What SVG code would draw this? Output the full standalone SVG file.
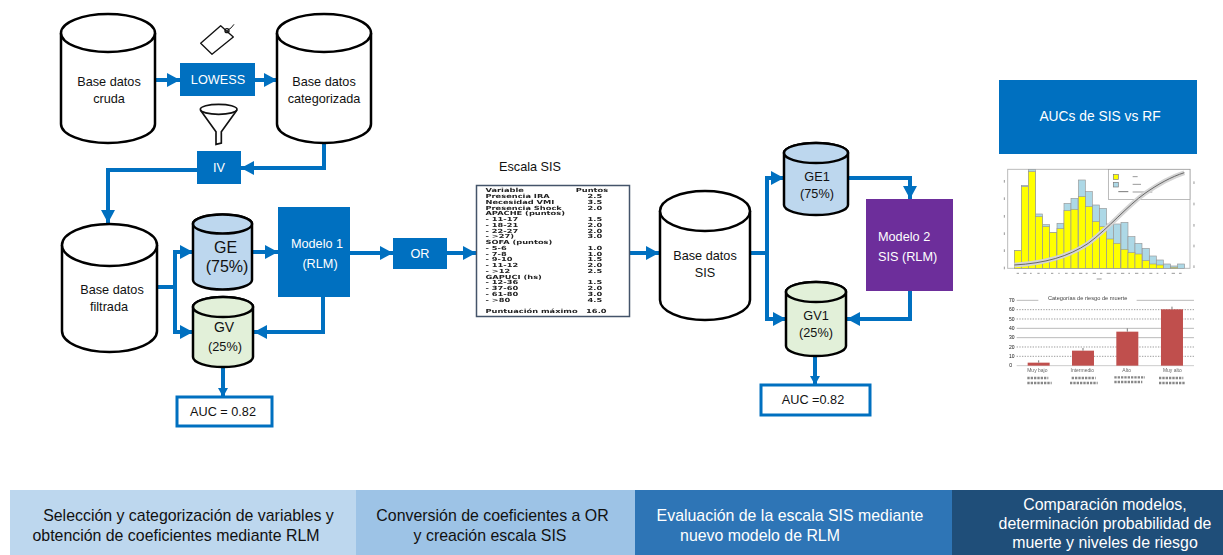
<svg xmlns="http://www.w3.org/2000/svg" width="1223" height="555" viewBox="0 0 1223 555">
<style>
text{font-family:"Liberation Sans",Arial,sans-serif;fill:#111}
.c{text-anchor:middle}
.cy{fill:#fff;stroke:#000;stroke-width:2.500}
.box{fill:#0070c0}
.lab{font-size:12.700px}
.wt{fill:#fff}
.band{font-size:15.900px}
.conn{fill:none;stroke:#0070c0;stroke-width:4}
.tb{font-family:"DejaVu Sans",sans-serif;font-weight:700;font-size:5.600px;fill:#222}
.ax{font-size:15px;fill:#777}
.tick{stroke:#999;stroke-width:3;fill:none}
</style>
<defs>
<marker id="a" markerUnits="userSpaceOnUse" markerWidth="14" markerHeight="15" refX="13" refY="7.500" orient="auto"><path d="M0 0.500 L13 7.500 L0 14.500 Z" fill="#0070c0"/></marker>
<marker id="s" markerUnits="userSpaceOnUse" markerWidth="10" markerHeight="11" refX="9" refY="5.500" orient="auto"><path d="M0 0.500 L9 5.500 L0 10.500 Z" fill="#0070c0"/></marker>
<filter id="b1" x="-5%" y="-5%" width="110%" height="110%"><feGaussianBlur stdDeviation="0.45"/></filter>
<filter id="b2" x="-5%" y="-5%" width="110%" height="110%"><feGaussianBlur stdDeviation="1.800"/></filter>
</defs>
<rect width="1223" height="555" fill="#fff"/>

<g id="connectors" class="conn">
<path d="M155 80H180" marker-end="url(#a)"/>
<path d="M255 80H277" marker-end="url(#a)"/>
<path d="M324 143V168H241" marker-end="url(#a)"/>
<path d="M197 170H108V223" marker-end="url(#a)"/>
<path d="M157 287H175V252H193" marker-end="url(#a)"/>
<path d="M175 287V332H193" marker-end="url(#a)"/>
<path d="M252 252H278" marker-end="url(#a)"/>
<path d="M323 297V332H254" marker-end="url(#a)"/>
<path d="M223 367V397" marker-end="url(#s)"/>
<path d="M350 253H393" marker-end="url(#a)"/>
<path d="M447 253H476" marker-end="url(#a)"/>
<path d="M630 253H659" marker-end="url(#a)"/>
<path d="M750 253H767V178H784" marker-end="url(#a)"/>
<path d="M767 253V319H786" marker-end="url(#a)"/>
<path d="M848 178H910V199" marker-end="url(#a)"/>
<path d="M910 291V319H847" marker-end="url(#a)"/>
<path d="M815 356V385" marker-end="url(#s)"/>
</g>

<g id="db-cruda">
<path class="cy" d="M61 33A47 19 0 0 1 155 33V124A47 19 0 0 1 61 124Z"/>
<path class="cy" d="M61 33A47 19 0 0 0 155 33"/>
<text class="lab c" x="109" y="86">Base datos</text><text class="lab c" x="109" y="103">cruda</text>
</g>
<g id="db-categorizada">
<path class="cy" d="M277 33A47 19 0 0 1 371 33V124A47 19 0 0 1 277 124Z"/>
<path class="cy" d="M277 33A47 19 0 0 0 371 33"/>
<text class="lab c" x="324" y="86">Base datos</text><text class="lab c" x="324" y="103">categorizada</text>
</g>
<g id="lowess"><rect class="box" x="180" y="63" width="75" height="33"/><text class="lab c wt" x="218" y="84">LOWESS</text></g>
<g id="tag" transform="translate(170 15) scale(.3333)" fill="none" stroke="#111" stroke-width="4">
<path d="M92 85L152 32L190 66L126 118Z" stroke-linejoin="round"/><circle cx="171" cy="47" r="6"/><path d="M171 47Q185 40 192 28" stroke-width="3"/>
</g>
<g id="funnel" transform="translate(170 15) scale(.3333)" fill="none" stroke="#111" stroke-width="5">
<ellipse cx="146" cy="283" rx="55" ry="15"/><path d="M91 285L138 350V388L154 384V350L201 285"/>
</g>
<g id="iv"><rect class="box" x="197" y="151" width="44" height="33"/><text class="lab c wt" x="219" y="172">IV</text></g>

<g id="db-filtrada">
<path class="cy" d="M62 245A47.500 21 0 0 1 157 245V331A47.500 21 0 0 1 62 331Z"/>
<path class="cy" d="M62 245A47.500 21 0 0 0 157 245"/>
<text class="lab c" x="112" y="294">Base datos</text><text class="lab c" x="109" y="311">filtrada</text>
</g>
<g id="ge">
<path class="cy" style="fill:#bdd7ee" d="M193 224A29.500 9.500 0 0 1 252 224V280A29.500 9.500 0 0 1 193 280Z"/>
<path class="cy" style="fill:#bdd7ee" d="M193 224A29.500 9.500 0 0 0 252 224A29.500 9.500 0 0 0 193 224Z"/>
<text class="c" font-size="16" x="225.500" y="253">GE</text><text class="c" font-size="16" x="227" y="272">(75%)</text>
</g>
<g id="gv">
<path class="cy" style="fill:#e2f0d9" d="M193 307A30 10 0 0 1 253 307V357A30 10 0 0 1 193 357Z"/>
<path class="cy" style="fill:#e2f0d9" d="M193 307A30 10 0 0 0 253 307A30 10 0 0 0 193 307Z"/>
<text class="c" font-size="14" x="224" y="332">GV</text><text class="lab c" x="225" y="351">(25%)</text>
</g>
<g id="modelo1"><rect class="box" x="278" y="207" width="72" height="90"/><text class="lab c wt" x="317" y="248">Modelo 1</text><text class="lab c wt" x="320" y="268">(RLM)</text></g>
<g id="auc1"><rect x="177" y="397" width="95" height="29" fill="#fff" stroke="#0070c0" stroke-width="3"/><text class="lab c" x="223" y="416">AUC = 0.82</text></g>
<g id="or"><rect class="box" x="393" y="238" width="54" height="31"/><text class="lab c wt" x="420" y="258">OR</text></g>

<g id="escala">
<text class="lab" x="499" y="171">Escala SIS</text>
<rect x="476.500" y="185.500" width="153" height="131" fill="#fff" stroke="#44546a" stroke-width="1.500"/>
<g filter="url(#b1)"><g transform="translate(484 0) scale(1.480 1)">
<text class="tb" x="1" y="192.500">Variable</text><text class="tb" x="62" y="192.500">Puntos</text>
<text class="tb" x="1" y="198.200">Presencia IRA</text><text class="tb" x="70" y="198.200">2.5</text>
<text class="tb" x="1" y="204">Necesidad VMI</text><text class="tb" x="70" y="204">3.5</text>
<text class="tb" x="1" y="209.700">Presencia Shock</text><text class="tb" x="70" y="209.700">2.0</text>
<text class="tb" x="1" y="215.500">APACHE (puntos)</text>
<text class="tb" x="1" y="221.200">- 11-17</text><text class="tb" x="70" y="221.200">1.5</text>
<text class="tb" x="1" y="227">- 18-21</text><text class="tb" x="70" y="227">2.0</text>
<text class="tb" x="1" y="232.700">- 22-27</text><text class="tb" x="70" y="232.700">2.0</text>
<text class="tb" x="1" y="238.400">- &gt;27)</text><text class="tb" x="70" y="238.400">3.0</text>
<text class="tb" x="1" y="244.200">SOFA (puntos)</text>
<text class="tb" x="1" y="249.900">- 5-6</text><text class="tb" x="70" y="249.900">1.0</text>
<text class="tb" x="1" y="255.700">- 7-8</text><text class="tb" x="70" y="255.700">1.0</text>
<text class="tb" x="1" y="261.400">- 9-10</text><text class="tb" x="70" y="261.400">1.5</text>
<text class="tb" x="1" y="267.200">- 11-12</text><text class="tb" x="70" y="267.200">2.0</text>
<text class="tb" x="1" y="272.900">- &gt;12</text><text class="tb" x="70" y="272.900">2.5</text>
<text class="tb" x="1" y="278.600">GAPUCI (hs)</text>
<text class="tb" x="1" y="284.400">- 12-36</text><text class="tb" x="70" y="284.400">1.5</text>
<text class="tb" x="1" y="290.100">- 37-60</text><text class="tb" x="70" y="290.100">2.0</text>
<text class="tb" x="1" y="295.900">- 61-80</text><text class="tb" x="70" y="295.900">3.0</text>
<text class="tb" x="1" y="301.600">- &gt;80</text><text class="tb" x="70" y="301.600">4.5</text>
<text class="tb" x="1" y="312.700">Puntuación máximo</text><text class="tb" x="69" y="312.700">16.0</text>
</g></g>
</g>

<g id="db-sis">
<path class="cy" d="M660 211A45 20 0 0 1 750 211V300A45 20 0 0 1 660 300Z"/>
<path class="cy" d="M660 211A45 20 0 0 0 750 211"/>
<text class="lab c" x="705" y="260">Base datos</text><text class="lab c" x="705" y="277">SIS</text>
</g>
<g id="ge1">
<path class="cy" style="fill:#bdd7ee" d="M784 153A32 10 0 0 1 848 153V205A32 10 0 0 1 784 205Z"/>
<path class="cy" style="fill:#bdd7ee" d="M784 153A32 10 0 0 0 848 153A32 10 0 0 0 784 153Z"/>
<text class="lab c" x="817" y="181">GE1</text><text class="lab c" x="817" y="198">(75%)</text>
</g>
<g id="gv1">
<path class="cy" style="fill:#e2f0d9" d="M786 292A30 10 0 0 1 846 292V346A30 10 0 0 1 786 346Z"/>
<path class="cy" style="fill:#e2f0d9" d="M786 292A30 10 0 0 0 846 292A30 10 0 0 0 786 292Z"/>
<text class="lab c" x="816" y="320">GV1</text><text class="lab c" x="816" y="337">(25%)</text>
</g>
<g id="modelo2"><rect x="866" y="199" width="87" height="92" fill="#6d2e9b"/><text class="lab wt" x="878" y="241">Modelo 2</text><text class="lab wt" x="878" y="261">SIS (RLM)</text></g>
<g id="auc2"><rect x="761" y="385" width="109" height="30" fill="#fff" stroke="#0070c0" stroke-width="3"/><text class="lab c" x="813" y="404">AUC =0.82</text></g>

<g id="aucs"><rect class="box" x="999" y="80" width="198" height="74"/><text class="c wt" font-size="13.800" x="1100" y="121">AUCs de SIS vs RF</text></g>

<g id="histograma" transform="translate(995 160) scale(.3333)" filter="url(#b2)">
<rect x="38" y="28" width="547" height="297" fill="#fff" stroke="#bbb" stroke-width="3"/>
<g fill="#add8e6" stroke="#999" stroke-width="2">
<rect x="58" y="272" width="21" height="53"/><rect x="79" y="76" width="21" height="249"/><rect x="100" y="28" width="21" height="297"/><rect x="121" y="162" width="21" height="163"/><rect x="143" y="194" width="21" height="131"/><rect x="164" y="218" width="21" height="107"/><rect x="186" y="190" width="21" height="135"/><rect x="207" y="130" width="21" height="195"/><rect x="228" y="115" width="21" height="210"/><rect x="250" y="60" width="21" height="265"/><rect x="271" y="95" width="21" height="230"/><rect x="292" y="135" width="21" height="190"/><rect x="314" y="145" width="21" height="180"/><rect x="335" y="192" width="21" height="133"/><rect x="356" y="192" width="21" height="133"/><rect x="378" y="187" width="21" height="138"/><rect x="399" y="230" width="21" height="95"/><rect x="420" y="250" width="21" height="75"/><rect x="442" y="265" width="21" height="60"/><rect x="463" y="288" width="21" height="37"/><rect x="484" y="300" width="21" height="25"/><rect x="506" y="312" width="21" height="13"/><rect x="527" y="318" width="21" height="7"/><rect x="548" y="312" width="21" height="13"/>
</g>
<g fill="#ffff00" stroke="#999" stroke-width="2">
<rect x="58" y="272" width="21" height="53"/><rect x="79" y="80" width="21" height="245"/><rect x="100" y="35" width="21" height="290"/><rect x="121" y="170" width="21" height="155"/><rect x="143" y="200" width="21" height="125"/><rect x="164" y="218" width="21" height="107"/><rect x="186" y="206" width="21" height="119"/><rect x="207" y="152" width="21" height="173"/><rect x="228" y="148" width="21" height="177"/><rect x="250" y="110" width="21" height="215"/><rect x="271" y="140" width="21" height="185"/><rect x="292" y="185" width="21" height="140"/><rect x="314" y="200" width="21" height="125"/><rect x="335" y="237" width="21" height="88"/><rect x="356" y="250" width="21" height="75"/><rect x="378" y="268" width="21" height="57"/><rect x="399" y="278" width="21" height="47"/><rect x="420" y="282" width="21" height="43"/><rect x="442" y="302" width="21" height="23"/><rect x="463" y="312" width="21" height="13"/><rect x="484" y="315" width="21" height="10"/><rect x="527" y="322" width="21" height="3"/>
</g>
<rect x="340" y="28" width="245" height="90" fill="#fff" stroke="#999" stroke-width="2"/>
<rect x="355" y="44" width="15" height="14" fill="#ffff00" stroke="#777" stroke-width="2"/>
<rect x="355" y="67" width="15" height="14" fill="#add8e6" stroke="#777" stroke-width="2"/>
<path d="M370 95H400" stroke="#777" stroke-width="3"/>
<path d="M413 50H428M413 73H438M413 96H472" stroke="#999" stroke-width="3"/>
<path d="M58 315C150 310 220 290 280 250C340 205 400 135 450 100C490 72 530 50 568 38" fill="none" stroke="#d4d4d4" stroke-width="14"/>
<path d="M58 315C150 310 220 290 280 250C340 205 400 135 450 100C490 72 530 50 568 38" fill="none" stroke="#666" stroke-width="3"/>
<path class="tick" d="M28 60V68M28 112V120M28 165V173M28 217V225M28 268V276M28 320V328M597 64V72M597 128V136M597 192V200M597 254V262M597 316V324"/>
<path class="tick" d="M65 340H72M85 340H94M105 340H110M127 340H134M148 340H153M168 340H175M190 340H194M210 340H218M230 340H238M252 340H262M272 340H278M293 340H303M315 340H322M335 340H347M358 340H364M378 340H388M400 340H405M420 340H430M442 340H448M463 340H472M485 340H490M507 340H513M530 340H540M552 340H560M305 357H320"/>
</g>

<g id="riesgo" transform="translate(995 285) scale(.3333)" filter="url(#b2)">
<path d="M65 46H130M425 46H597M65 130H597M65 158H597" stroke="#bbb" stroke-width="3" fill="none"/>
<path d="M65 74H597M65 102H597M65 186H597M65 214H597" stroke="#888" stroke-width="2.500" stroke-dasharray="4 4" fill="none"/>
<path d="M65 242H597" stroke="#ccc" stroke-width="3"/>
<g fill="#c0504d"><rect x="98" y="233" width="66" height="9"/><rect x="231" y="197" width="66" height="45"/><rect x="364" y="140" width="66" height="102"/><rect x="498" y="73" width="66" height="169"/></g>
<path d="M131 233V226M264 197V189M397 140V130M531 73V65" stroke="#777" stroke-width="3"/>
<text x="278" y="45" class="c" style="font-size:17px;fill:#444">Categorías de riesgo de muerte</text>
<g class="ax" text-anchor="middle"><text x="50" y="51">70</text><text x="50" y="79">60</text><text x="50" y="107">50</text><text x="50" y="135">40</text><text x="50" y="163">30</text><text x="50" y="191">20</text><text x="50" y="219">10</text><text x="47" y="247">0</text></g>
<g text-anchor="middle" style="font-size:15px"><text x="127" y="260" style="fill:#666">Muy bajo</text><text x="262" y="260" style="fill:#666">Intermedio</text><text x="395" y="260" style="fill:#666">Alto</text><text x="532" y="260" style="fill:#666">Muy alto</text></g>
<path d="M97 279H160M97 294H170M230 279H302M225 294H308M358 277H450M358 291H442M492 279H565M492 294H572" stroke="#888" stroke-width="7" stroke-dasharray="7 3" fill="none"/>
</g>

<g id="fase1"><rect x="10" y="490" width="346" height="65" fill="#bdd7ee"/><text class="band c" x="188.500" y="521">Selección y categorización de variables y</text><text class="band c" x="176" y="541">obtención de coeficientes mediante RLM</text></g>
<g id="fase2"><rect x="356" y="490" width="279" height="65" fill="#9dc3e6"/><text class="band c" x="492.500" y="521">Conversión de coeficientes a OR</text><text class="band c" x="490" y="541">y creación escala SIS</text></g>
<g id="fase3"><rect x="635" y="490" width="317" height="65" fill="#2e75b6"/><text class="band c wt" x="790" y="521">Evaluación de la escala SIS mediante</text><text class="band c wt" x="760" y="541">nuevo modelo de RLM</text></g>
<g id="fase4"><rect x="952" y="490" width="271" height="65" fill="#1f4e79"/><text class="band c wt" x="1105" y="510">Comparación modelos,</text><text class="band c wt" x="1105" y="529">determinación probabilidad de</text><text class="band c wt" x="1105" y="548">muerte y niveles de riesgo</text></g>
</svg>
